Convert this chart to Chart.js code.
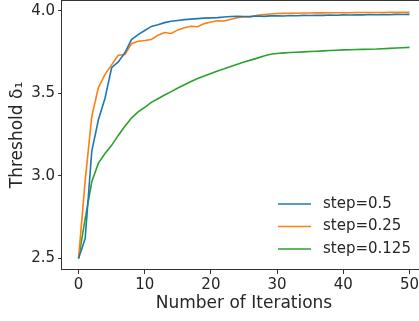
<!DOCTYPE html>
<html lang="en">
<head>
    <meta charset="UTF-8">
    <title>Threshold vs Iterations</title>
    <script src="https://cdn.jsdelivr.net/npm/chart.js"></script>
    <style>
        html, body { margin: 0; padding: 0; background: #fff; overflow: hidden; }
        #wrap { width: 426px; height: 321px; }
    </style>
</head>
<body>
    <div id="wrap"><canvas id="chart" width="426" height="321"></canvas></div>

    <script>
        // iteration index (x)
        const iterations = [0, 1, 2, 3, 4, 5, 6, 7, 8, 9, 10, 11, 12, 13, 14, 15, 16, 17, 18, 19, 20,
            21, 22, 23, 24, 25, 26, 27, 28, 29, 30, 31, 32, 33, 34, 35, 36, 37, 38, 39, 40,
            41, 42, 43, 44, 45, 46, 47, 48, 49, 50];

        const seriesLabels = ['step=0.5', 'step=0.25', 'step=0.125'];
        const seriesColors = ['#1f77b4', '#ff7f0e', '#2ca02c'];

        const step05 = [2.50, 2.62, 3.15, 3.34, 3.47, 3.655, 3.69, 3.745, 3.825, 3.855, 3.880,
            3.905, 3.915, 3.928, 3.936, 3.941, 3.946, 3.949, 3.952, 3.955, 3.957,
            3.958, 3.962, 3.965, 3.967, 3.965, 3.966, 3.968, 3.966, 3.969, 3.970,
            3.968, 3.971, 3.970, 3.972, 3.971, 3.973, 3.972, 3.974, 3.973, 3.975,
            3.974, 3.976, 3.975, 3.977, 3.976, 3.977, 3.976, 3.978, 3.977, 3.978];

        const step025 = [2.50, 2.97, 3.36, 3.535, 3.615, 3.672, 3.730, 3.735, 3.800, 3.815, 3.820,
            3.826, 3.852, 3.868, 3.862, 3.884, 3.897, 3.906, 3.903, 3.922, 3.932,
            3.939, 3.938, 3.949, 3.958, 3.964, 3.962, 3.972, 3.977, 3.980, 3.983,
            3.984, 3.985, 3.985, 3.986, 3.986, 3.987, 3.987, 3.988, 3.988, 3.988,
            3.988, 3.989, 3.989, 3.989, 3.989, 3.989, 3.990, 3.990, 3.990, 3.990];

        const step0125 = [2.50, 2.74, 2.964, 3.077, 3.135, 3.185, 3.245, 3.300, 3.350, 3.387, 3.415,
            3.445, 3.467, 3.490, 3.510, 3.532, 3.552, 3.572, 3.589, 3.605, 3.620,
            3.635, 3.648, 3.662, 3.676, 3.689, 3.701, 3.713, 3.726, 3.737, 3.741,
            3.745, 3.747, 3.749, 3.751, 3.753, 3.755, 3.757, 3.759, 3.761, 3.763,
            3.764, 3.765, 3.766, 3.767, 3.768, 3.770, 3.772, 3.774, 3.776, 3.778];

        const xTicks = [0, 10, 20, 30, 40, 50];
        const yTicks = [2.5, 3.0, 3.5, 4.0];

        const FONT = 'DejaVu Sans';
        const TEXT = '#262626';

        const seriesValues = [step05, step025, step0125];
        const datasets = seriesValues.map((vals, k) => ({
            label: seriesLabels[k],
            data: vals.map((v, i) => ({ x: iterations[i], y: v })),
            borderColor: seriesColors[k],
            backgroundColor: seriesColors[k],
            borderWidth: 1.6,
            pointRadius: 0,
            tension: 0,
            fill: false
        }));

        // box around the axes + legend in the lower right of the plot
        const framePlugin = {
            id: 'frameAndLegend',
            afterDraw(chart) {
                const { ctx, chartArea } = chart;
                ctx.save();
                ctx.strokeStyle = '#333';
                ctx.lineWidth = 1;
                ctx.strokeRect(Math.round(chartArea.left) - 0.5, Math.round(chartArea.top) + 0.5,
                    Math.round(chartArea.right - chartArea.left), Math.round(chartArea.bottom - chartArea.top) - 1);

                const x0 = chartArea.left + 216;
                const rowY = [chartArea.bottom - 66, chartArea.bottom - 43.5, chartArea.bottom - 21];
                ctx.font = '15px "' + FONT + '"';
                ctx.textBaseline = 'middle';
                ctx.textAlign = 'left';
                chart.data.datasets.forEach((ds, k) => {
                    ctx.strokeStyle = ds.borderColor;
                    ctx.lineWidth = 1.6;
                    ctx.beginPath();
                    ctx.moveTo(x0, rowY[k]);
                    ctx.lineTo(x0 + 33, rowY[k]);
                    ctx.stroke();
                    ctx.fillStyle = TEXT;
                    ctx.fillText(ds.label, x0 + 45, rowY[k]);
                });
                ctx.restore();
            }
        };

        new Chart(document.getElementById('chart'), {
            type: 'line',
            data: { datasets },
            options: {
                responsive: false,
                animation: false,
                devicePixelRatio: 1,
                layout: { padding: 0 },
                plugins: { legend: { display: false }, tooltip: { enabled: false } },
                scales: {
                    x: {
                        type: 'linear',
                        min: -2.5,
                        max: 52.5,
                        afterBuildTicks: (s) => { s.ticks = xTicks.map(v => ({ value: v })); },
                        afterFit: (s) => { s.height = 51; s.paddingLeft = 0; s.paddingRight = 0; },
                        grid: { drawOnChartArea: false, drawTicks: true, tickLength: 4, color: '#333' },
                        border: { display: false },
                        ticks: { autoSkip: false, maxRotation: 0, padding: 2, color: TEXT, font: { family: FONT, size: 15 } },
                        title: { display: true, text: 'Number of Iterations', color: TEXT, font: { family: FONT, size: 17 }, padding: { top: 0, bottom: 7 } }
                    },
                    y: {
                        min: 2.43,
                        max: 4.065,
                        afterBuildTicks: (s) => { s.ticks = yTicks.map(v => ({ value: v })); },
                        afterFit: (s) => { s.width = 62; s.paddingTop = 0; s.paddingBottom = 0; },
                        grid: { drawOnChartArea: false, drawTicks: true, tickLength: 4, color: '#333' },
                        border: { display: false },
                        ticks: { padding: 3, color: TEXT, font: { family: FONT, size: 15 }, callback: (v) => Number(v).toFixed(1) },
                        title: { display: true, text: 'Threshold \u03b4\u2081', color: TEXT, font: { family: FONT, size: 17 }, padding: { top: 7, bottom: 0 } }
                    }
                }
            },
            plugins: [framePlugin]
        });
    </script>
</body>
</html>
